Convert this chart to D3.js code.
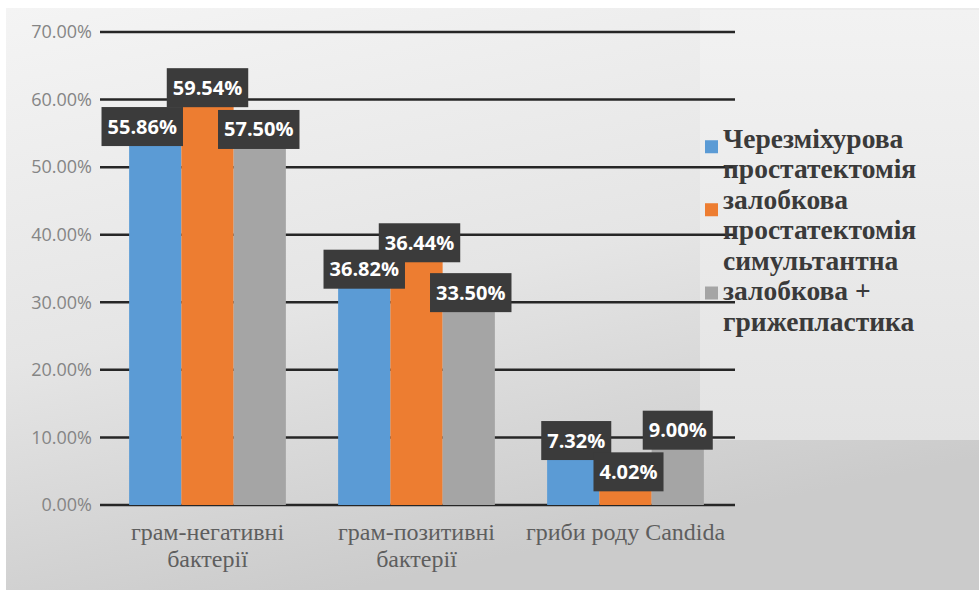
<!DOCTYPE html>
<html>
<head>
<meta charset="utf-8">
<script src="https://cdn.jsdelivr.net/npm/d3@7"></script>
<style>
  html, body { margin: 0; padding: 0; background: #ffffff; }
  svg { display: block; }
</style>
</head>
<body>
<svg id="chart" width="979" height="590"></svg>
<script>
// Categories (x axis), wrapped into lines
const categories = ["грам-негативні бактерії", "грам-позитивні бактерії", "гриби роду Candida"];
const categoryLines = [["грам-негативні", "бактерії"], ["грам-позитивні", "бактерії"], ["гриби роду Candida"]];

// Series names (legend), wrapped into lines
const seriesNames = ["Черезміхурова простатектомія", "залобкова простатектомія", "симультантна залобкова + грижепластика"];
const seriesLines = [["Черезміхурова", "простатектомія"], ["залобкова", "простатектомія"], ["симультантна", "залобкова +", "грижепластика"]];

// Percent values per series, one per category
const transvesical = [55.86, 36.82, 7.32];
const retropubic = [59.54, 36.44, 4.02];
const simultaneous = [57.50, 33.50, 9.00];

// Y axis ticks (percent)
const yTicks = [0, 10, 20, 30, 40, 50, 60, 70];

const seriesValues = [transvesical, retropubic, simultaneous];
const colors = ["#5b9bd5", "#ed7d31", "#a5a5a5"];

// Per-label nudges [dx, dy] of the value boxes relative to their bar tops
const labelNudge = [
  [[-13, -1], [0, -15], [-1, 13]],
  [[0, 13], [3, -16], [2, 14]],
  [[3, -15], [3, -6], [0, -14]]
];

const svg = d3.select("#chart");
const W = 979, H = 590;

// Background: white frame edge plus soft grey gradient
const defs = svg.append("defs");
const bg = defs.append("linearGradient").attr("id", "bg")
  .attr("x1", "0").attr("y1", "0").attr("x2", "0.35").attr("y2", "1");
bg.append("stop").attr("offset", "0").attr("stop-color", "#f4f4f4");
bg.append("stop").attr("offset", "0.55").attr("stop-color", "#e5e5e5");
bg.append("stop").attr("offset", "1").attr("stop-color", "#cbcbcb");
const lg = defs.append("linearGradient").attr("id", "lg")
  .attr("x1", "0").attr("y1", "0").attr("x2", "0").attr("y2", "1");
lg.append("stop").attr("offset", "0").attr("stop-color", "#f2f2f2");
lg.append("stop").attr("offset", "1").attr("stop-color", "#e3e3e3");

svg.append("rect").attr("width", W).attr("height", H).attr("fill", "#ffffff");
svg.append("rect").attr("x", 6).attr("y", 8).attr("width", W - 6).attr("height", H - 8).attr("fill", "url(#bg)");
svg.append("rect").attr("x", 700).attr("y", 10).attr("width", W - 700).attr("height", 430).attr("fill", "url(#lg)");

// Scales
const y = d3.scaleLinear().domain([0, 70]).range([505, 32]);
const x0 = d3.scaleBand().domain(categories).range([103, 730]).paddingInner(0.25).paddingOuter(0.125);
const x1 = d3.scaleBand().domain(d3.range(seriesNames.length)).range([0, x0.bandwidth()]);

// Gridlines
svg.append("g").selectAll("line").data(yTicks).join("line")
  .attr("x1", 100).attr("x2", 735)
  .attr("y1", d => y(d)).attr("y2", d => y(d))
  .attr("stroke", "#262626").attr("stroke-width", 2.5);

// Y axis labels
const yAxis = d3.axisLeft(y).tickValues(yTicks).tickSize(0).tickPadding(0)
  .tickFormat(d => d3.format(".2f")(d) + "%");
const yg = svg.append("g").attr("transform", "translate(92,0)").call(yAxis);
yg.select(".domain").remove();
yg.selectAll("text")
  .attr("font-family", "'Open Sans', sans-serif")
  .attr("font-size", 18)
  .attr("fill", "#858585");

// Bars
const groups = svg.append("g").selectAll("g").data(categories).join("g")
  .attr("transform", d => `translate(${x0(d)},0)`);

groups.selectAll("rect")
  .data((d, ci) => seriesValues.map((vals, si) => ({ si, ci, v: vals[ci] })))
  .join("rect")
  .attr("x", d => x1(d.si))
  .attr("width", x1.bandwidth())
  .attr("y", d => y(d.v))
  .attr("height", d => y(0) - y(d.v))
  .attr("fill", d => colors[d.si]);

// Value labels in dark boxes
const labels = svg.append("g");
categories.forEach((cat, ci) => {
  seriesValues.forEach((vals, si) => {
    const v = vals[ci];
    const [dx, dy] = labelNudge[ci][si];
    const cx = x0(cat) + x1(si) + x1.bandwidth() / 2 + dx;
    const cy = y(v) + dy;
    const g = labels.append("g");
    const t = g.append("text")
      .attr("x", cx).attr("y", cy + 7)
      .attr("text-anchor", "middle")
      .attr("font-family", "'Open Sans', sans-serif")
      .attr("font-weight", "bold")
      .attr("font-size", 20)
      .attr("fill", "#ffffff")
      .text(d3.format(".2f")(v) + "%");
    const w = t.node().getComputedTextLength() + 12;
    g.insert("rect", "text")
      .attr("x", cx - w / 2).attr("y", cy - 19.5)
      .attr("width", w).attr("height", 39)
      .attr("fill", "#3b3b3b");
  });
});

// Category labels
const xl = svg.append("g");
categories.forEach((cat, ci) => {
  const cx = x0(cat) + x0.bandwidth() / 2;
  categoryLines[ci].forEach((line, li) => {
    xl.append("text")
      .attr("x", cx).attr("y", 540 + li * 27)
      .attr("text-anchor", "middle")
      .attr("font-family", "'Liberation Serif', serif")
      .attr("font-size", 24)
      .attr("fill", "#5e5e5e")
      .text(line);
  });
});

// Legend
const legend = svg.append("g");
const pitch = 30.5;
const markerNudge = [-9, -7, 0];
let line = 0;
seriesNames.forEach((name, si) => {
  const lines = seriesLines[si];
  const firstCenter = 140.5 + line * pitch;
  const mid = firstCenter + (lines.length - 1) * pitch / 2 + markerNudge[si];
  legend.append("rect")
    .attr("x", 705).attr("y", mid - 6.5)
    .attr("width", 13).attr("height", 13)
    .attr("fill", colors[si]);
  lines.forEach((txt, li) => {
    legend.append("text")
      .attr("x", 723).attr("y", firstCenter + li * pitch + 7)
      .attr("font-family", "'Liberation Serif', serif")
      .attr("font-weight", "bold")
      .attr("font-size", 27.5)
      .attr("fill", "#3a3a3a")
      .text(txt);
  });
  line += lines.length;
});
</script>
</body>
</html>
